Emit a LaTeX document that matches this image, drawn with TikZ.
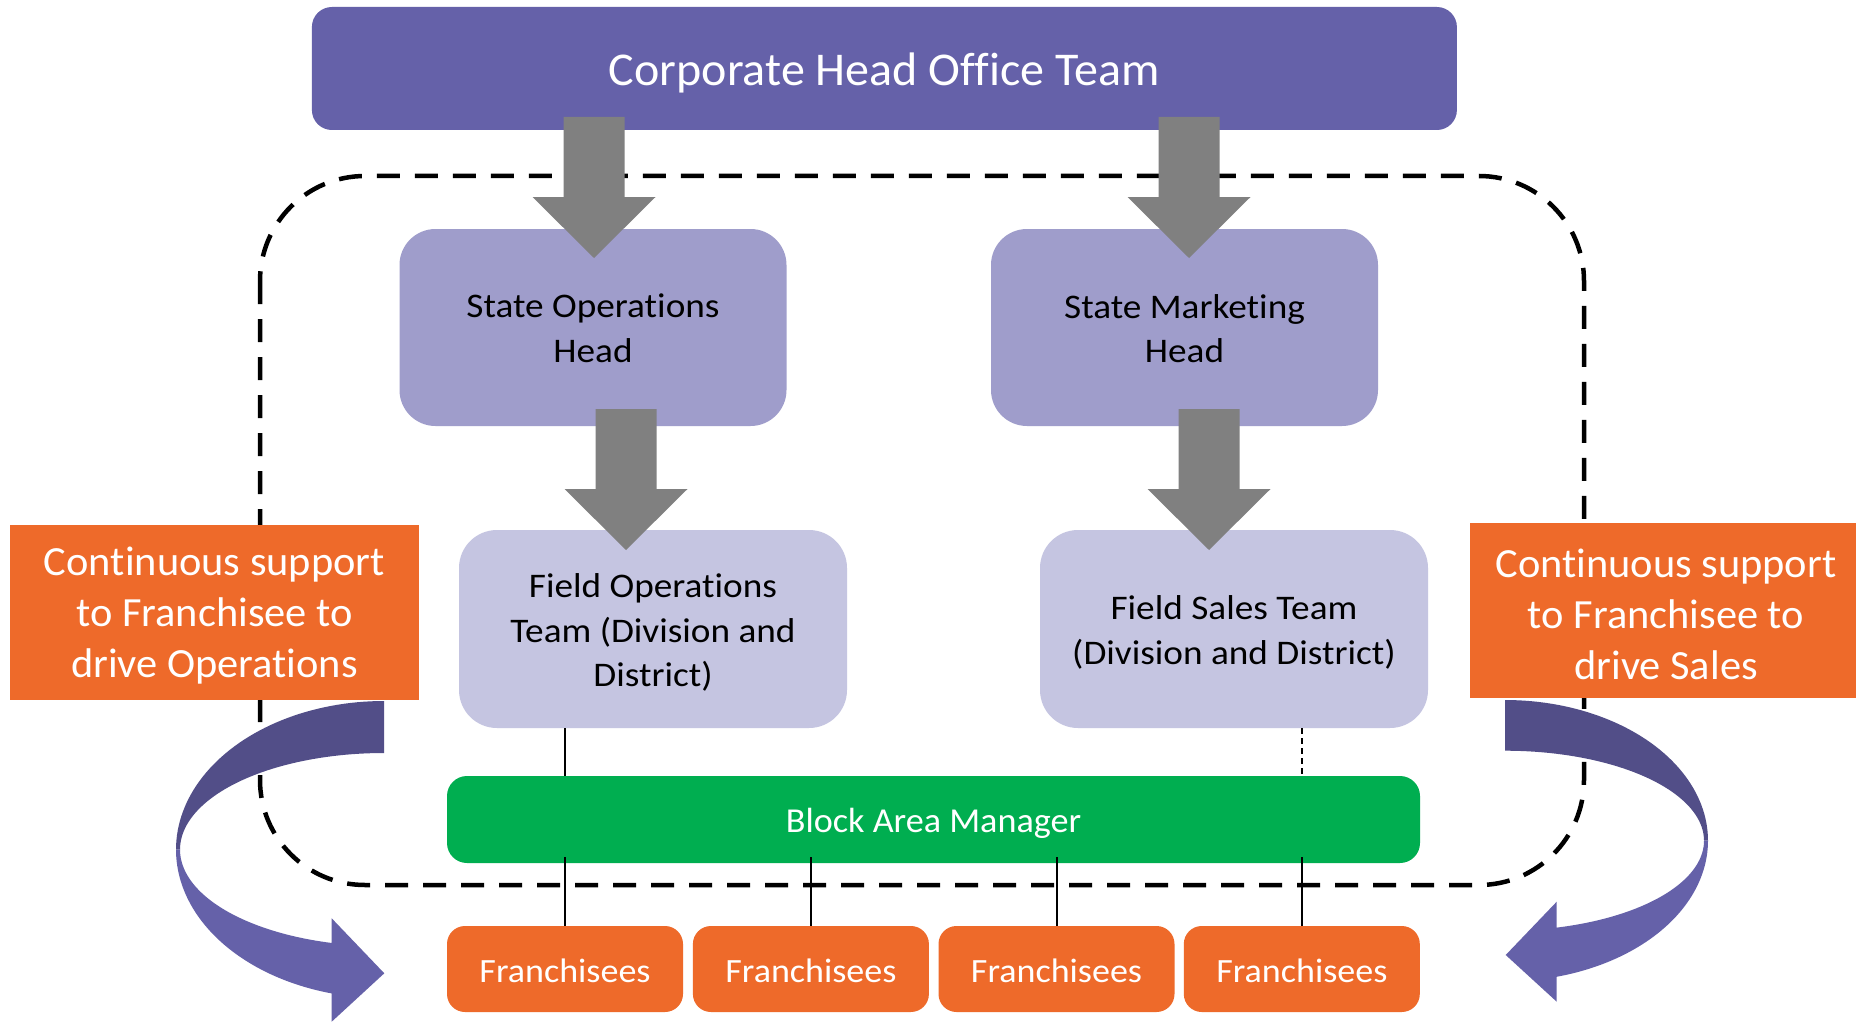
\documentclass[tikz,border=0pt]{standalone}
\usepackage{fontspec}
\setmainfont{Carlito}[Ligatures=NoCommon]
\newfontfamily\fA{Carlito}[Ligatures=NoCommon, FakeStretch=1.022]
\newfontfamily\fB{Carlito}[Ligatures=NoCommon, FakeStretch=1.08]
\newfontfamily\fC{Carlito}[Ligatures=NoCommon, FakeStretch=1.033]
\newfontfamily\fD{Carlito}[Ligatures=NoCommon, FakeStretch=1.06]
\definecolor{topblue}{HTML}{6561A9}
\definecolor{statecol}{HTML}{9F9DCB}
\definecolor{fieldcol}{HTML}{C5C5E1}
\definecolor{bamgreen}{HTML}{00AE50}
\definecolor{orangec}{HTML}{EE6A2A}
\definecolor{arrowgray}{HTML}{808080}
\definecolor{banddark}{HTML}{524E88}
\definecolor{bandlight}{HTML}{6561A9}
\begin{document}
\begin{tikzpicture}[x=1pt,y=-1pt,
  basebox/.style={inner sep=0pt, align=center, draw=none},
  txt/.style={inner sep=0pt, align=center},
  topbox/.style={basebox, fill=topblue, rounded corners=20pt,
     minimum width=1145pt, minimum height=123pt},
  toptext/.style={txt, text=white, font=\fA\fontsize{47}{56}\selectfont},
  statebox/.style={basebox, fill=statecol, rounded corners=36pt,
     minimum width=387pt, minimum height=197pt},
  fieldbox/.style={basebox, fill=fieldcol, rounded corners=38pt,
     minimum width=388pt, minimum height=198pt},
  boxtext/.style={txt, text=black, font=\fB\fontsize{34.5}{44.5}\selectfont},
  bambox/.style={basebox, fill=bamgreen, rounded corners=20pt,
     minimum width=973pt, minimum height=87pt},
  bamtext/.style={txt, text=white, font=\fC\fontsize{35}{42}\selectfont},
  franbox/.style={basebox, fill=orangec, rounded corners=18pt,
     minimum width=236pt, minimum height=86pt},
  frantext/.style={txt, text=white, font=\fD\fontsize{34}{40}\selectfont},
  supportbox/.style={basebox, fill=orangec, minimum height=175pt},
  supporttext/.style={txt, text=white, font=\fA\fontsize{41.5}{51}\selectfont},
  dashbox/.style={draw=black, line width=4.5pt, dash pattern=on 23pt off 15pt, rounded corners=105pt},
  thinline/.style={draw=black, line width=2pt},
  thindash/.style={draw=black, line width=1.6pt, dash pattern=on 6pt off 4pt},
  garrow/.pic={\fill[arrowgray] (0,0) -- (61.5,-61) -- (30.5,-61) -- (30.5,-141)
     -- (-30.5,-141) -- (-30.5,-61) -- (-61.5,-61) -- cycle;}
]
\useasboundingbox (0,0) rectangle (1856,1022);
\fill[white] (0,0) rectangle (1856,1022);

% dashed enclosure
\draw[dashbox] (260,176) rectangle (1584,885);

% boxes
\node[topbox] (top) at (884.4,68.5) {};
\node[statebox] (so) at (593,327.5) {};
\node[statebox] (sm) at (1184.5,327.5) {};
\node[fieldbox] (fo) at (653,629) {};
\node[fieldbox] (fs) at (1234,629) {};
\node[bambox] (bam) at (933.5,819.5) {};
\node[franbox] (f1) at (565,969) {};
\node[franbox] (f2) at (810.9,969) {};
\node[franbox] (f3) at (1056.5,969) {};
\node[franbox] (f4) at (1301.8,969) {};
\node[supportbox, minimum width=409pt] (cl) at (214.5,612.5) {};
\node[supportbox, minimum width=392pt] (cr) at (1666,610.5) {};

% texts
\node[toptext] (ttop) at ([yshift=-4pt]top.center) {Corporate Head Office Team};
\node[boxtext] (tso) at ([yshift=-1pt]so.center) {State Operations\\Head};
\node[boxtext] (tsm) at ([yshift=-1pt]sm.center) {State Marketing\\Head};
\node[boxtext] (tfo) at ([yshift=-3.5pt]fo.center) {Field Operations\\Team (Division and\\District)};
\node[boxtext] (tfs) at ([yshift=-3.5pt]fs.center) {Field Sales Team\\(Division and District)};
\node[bamtext] (tbam) at ([yshift=-3.5pt]bam.center) {Block Area Manager};
\foreach \f in {f1,f2,f3,f4}{\node[frantext] at ([yshift=-1.5pt]\f.center) {Franchisees};}
\node[supporttext] (tcl) at ([yshift=-3.5pt]cl.center) {Continuous support\\to Franchisee to\\drive Operations};
\node[supporttext] (tcr) at ([yshift=-3.5pt]cr.center) {Continuous support\\to Franchisee to\\drive Sales};

% thin connectors
\draw[thinline] (f1 |- fo.south) -- (f1 |- bam.north);
\draw[thindash] (f4 |- fs.south) -- (f4 |- bam.north);
\draw[thinline] ([yshift=6pt]f1 |- bam.south) -- (f1.north);
\draw[thinline] ([yshift=6pt]f2 |- bam.south) -- (f2.north);
\draw[thinline] ([yshift=6pt]f3 |- bam.south) -- (f3.north);
\draw[thinline] ([yshift=6pt]f4 |- bam.south) -- (f4.north);

% grey block arrows
\pic at (594,258) {garrow};
\pic at (1189,258) {garrow};
\pic at (626,550) {garrow};
\pic at (1209,550) {garrow};

% left curved arrow
\fill[banddark] plot[domain=90:180, samples=50, variable=\t] ({384+208*cos(\t)},{849.6-148.6*sin(\t)})
  -- plot[domain=0:90, samples=50, variable=\t] ({384+204*cos(180-\t)},{849.6-96.6*sin(180-\t)}) -- cycle;
\fill[bandlight] plot[domain=180:255.44, samples=50, variable=\t] ({384+208*cos(\t)},{849.6-148.6*sin(\t)})
  -- (331.7,1021.7) -- (384.3,973.3) -- (331.7,918.3)
  -- plot[domain=0:75.14, samples=50, variable=\t] ({384+204*cos(255.14-\t)},{849.6-96.6*sin(255.14-\t)}) -- cycle;

% right curved arrow
\fill[banddark] plot[domain=0:90, samples=50, variable=\t] ({1505+203*cos(90-\t)},{840.7-140.7*sin(90-\t)})
  -- plot[domain=0:90, samples=50, variable=\t] ({1505+199*cos(\t)},{840.7-90*sin(\t)}) -- cycle;
\fill[bandlight] plot[domain=0:75.25, samples=50, variable=\t] ({1505+203*cos(-\t)},{840.7-140.7*sin(-\t)})
  -- (1556.7,1001.7) -- (1505.7,955) -- (1556.7,901.7)
  -- plot[domain=0:74.94, samples=50, variable=\t] ({1505+199*cos(\t-74.94)},{840.7-90*sin(\t-74.94)}) -- cycle;
\end{tikzpicture}
\end{document}
